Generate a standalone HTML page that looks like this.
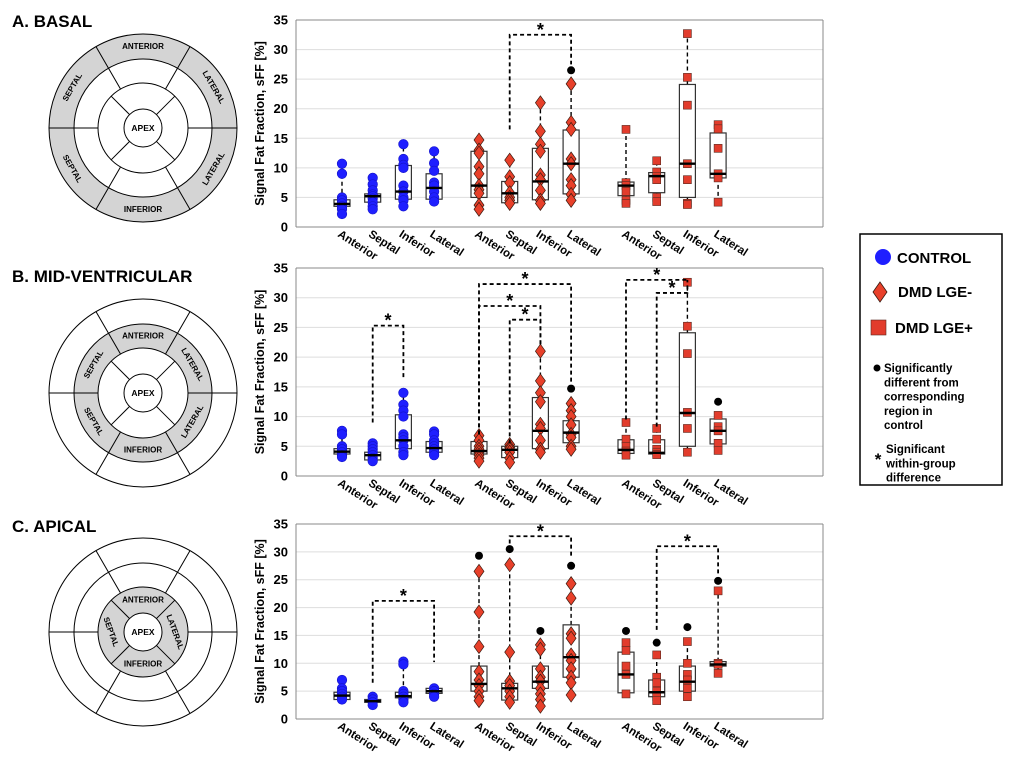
<!DOCTYPE html>
<html><head><meta charset="utf-8"><style>
html,body{margin:0;padding:0;background:#fff;}
svg{display:block;font-family:"Liberation Sans",Arial,sans-serif;}
</style></head><body>
<svg id="fig" width="1024" height="768" viewBox="0 0 1024 768" xmlns="http://www.w3.org/2000/svg"></svg>
<script>
// ---------- DATA ----------
const categories = ["Anterior","Septal","Inferior","Lateral","Anterior","Septal","Inferior","Lateral","Anterior","Septal","Inferior","Lateral"];
const groups = ["control","dmd-lge-neg","dmd-lge-pos"];
const yTicks = [0,5,10,15,20,25,30,35];

const pointsA = [[10.7,9,5,4.5,4,3.5,3,2.2],[8.3,7.2,6.2,5.5,5.2,4.8,4.2,3.5,3],[14,11.5,10.5,10,7,6,5,4.5,3.5],[12.8,10.8,9.5,7.5,7,6,5,4.3],
  [14.7,13,12.5,10.2,9,7,6.3,5.7,3.7,3],[11.3,8.5,7.5,5.8,5,4.5,4],[21,16.2,14,12.8,8.8,8,6.2,4.5,4],[24.2,17.7,16.5,11.5,10.7,8,7,5.5,4.5],
  [16.5,7.5,7,6,4.5,4],[11.2,9.3,8.5,8,5,4.3],[32.7,25.3,20.6,10.7,8,4,3.8],[17.3,16.6,13.3,9,8.3,4.2]];
const q1A = [3.5,4.2,4.7,4.7,5,4.1,4.6,5.6,5.3,5.8,5,8.3];
const medA = [3.9,5.2,6,6.6,7,5.7,7.7,10.7,7,8.6,10.7,9];
const q3A = [4.6,5.6,10.4,9,12.8,7.7,13.3,16.4,7.6,9.2,24.1,15.9];
const dotA = [null,null,null,null,null,null,null,26.5,null,null,null,null];
const sigA = [[5,7,32.5,16.5,27.5]];

const pointsB = [[7.6,7,5,4.5,4,3.5,3.2],[5.5,5,4.5,4,3.5,3,2.5],[14,12,11,10,7,6.5,6,5,4,3.5],[7.5,7,6,5.5,5,4.5,4,3.5],
  [6.8,6,5,4.5,4,3.5,3,2.5],[5.3,4.8,4.5,4,3,2.3],[21,16,14,12.5,8.7,8,6,4.5,4],[12.2,11,10,8.6,7,6.5,5,4.5],
  [9,6.2,5,4.2,3.5],[8,6.2,4.5,4,3.6],[32.6,25.2,20.6,10.7,8,4],[10.2,8.3,7.6,5.5,4.3]];
const q1B = [3.7,2.7,4.6,4,3.7,3.1,4.6,5.6,3.8,3.7,5,5.4];
const medB = [4.1,3.5,6,4.7,4.2,4.4,7.6,7.3,4.4,3.9,10.6,7.6];
const q3B = [4.6,4,10.3,5.8,5.8,5,13.2,9.3,6.1,6.1,24.1,9.6];
const dotB = [null,null,null,null,null,null,null,14.7,null,null,null,12.5];
const sigB = [[1,2,25.3,9,16.5],[4,7,32.3,7,15.5],[4,6,28.6,7,22],[5,6,26.3,5.5,22],[8,10,33,9.5,33],[9,10,30.8,8.3,33]];

const pointsC = [[7,5.5,5,4.5,4,3.5],[4,3.5,3,2.5],[10.3,9.8,5,4.5,4,3.5,3],[5.5,5,4.5,4],
  [26.5,19.2,13,8.5,7,6,5,4,3.3],[27.7,12,6.8,6,5,4,3],[13.3,12.5,9,7.5,6.8,5.5,4.5,3.5,2.3],[24.3,21.7,15.3,14.5,11.5,10.5,9,7.5,6.5,4.3],
  [13.7,12.3,9.5,8,4.5],[11.5,7.5,6.5,5,4,3.3],[13.9,10,8,7,5.5,4],[23,10,9.8,8.2]];
const q1C = [3.5,3,3.8,4.6,5,3.4,5.5,7.5,4.7,4,5,9.5];
const medC = [4.2,3.2,4.1,5,6.3,5.5,6.7,11.1,8,4.8,6.7,9.8];
const q3C = [4.8,3.5,4.8,5.5,9.5,6.4,9.5,16.9,12,7,9.5,10.3];
const dotC = [null,null,null,null,29.3,30.5,15.8,27.5,15.8,13.7,16.5,24.8];
const sigC = [[1,3,21.2,6.5,10.2],[5,7,32.8,31.5,29],[9,11,31,16,26]];

// ---------- LAYOUT ----------
const NS="http://www.w3.org/2000/svg";
const svg=document.getElementById('fig');
function mk(tag,attrs,parent,text){const e=document.createElementNS(NS,tag);for(const k in attrs)e.setAttribute(k,attrs[k]);if(text!==undefined)e.textContent=text;(parent||svg).appendChild(e);return e;}
const groupStart=[342,479,626], catStep=30.7;
function xPos(i){return groupStart[Math.floor(i/4)]+(i%4)*catStep;}
const plotL=296, plotR=823;

function drawPanel(key,top,bot,points,q1,med,q3,dots,sigs){
  const g=mk('g',{});
  
  
  const y=v=>bot-(v/35)*(bot-top);
  yTicks.forEach(t=>{
    const gl=mk('line',{x1:plotL,x2:plotR,y1:y(t),y2:y(t),stroke:t===0||t===35?'#888':'#ddd','stroke-width':1},g);
    
    
    const tl=mk('text',{x:plotL-8,y:y(t)+4.5,'text-anchor':'end','font-size':13,'font-weight':'bold'},g,String(t));
    
    
  });
  const ax=mk('line',{x1:plotL,x2:plotL,y1:top,y2:bot,stroke:'#888','stroke-width':1},g);
  
  
  const rx=mk('line',{x1:plotR,x2:plotR,y1:top,y2:bot,stroke:'#888','stroke-width':1},g);
  
  
  const yt=mk('text',{x:0,y:0,transform:`translate(${plotL-32},${(top+bot)/2}) rotate(-90)`,'text-anchor':'middle','font-size':12.5,'font-weight':'bold'},g,'Signal Fat Fraction, sFF [%]');
  
  
  categories.forEach((c,i)=>{
    const x=xPos(i);
    const lab=mk('text',{x:0,y:0,transform:`translate(${x-5},${bot+9}) rotate(33)`,'font-size':11.5,'font-weight':'bold'},g,c);
    
    
    const pts=points[i], mn=Math.min(...pts), mx=Math.max(...pts);
    const w1=mk('line',{x1:x,x2:x,y1:y(q3[i]),y2:y(mx),stroke:'#000','stroke-width':1.4,'stroke-dasharray':'4,3'},g);
    
    
    const w2=mk('line',{x1:x,x2:x,y1:y(q1[i]),y2:y(mn),stroke:'#000','stroke-width':1.4,'stroke-dasharray':'4,3'},g);
    
    
    const bx=mk('rect',{x:x-8,y:y(q3[i]),width:16,height:y(q1[i])-y(q3[i]),fill:'#fff',stroke:'#333','stroke-width':1.2},g);
    
    
    const grp=Math.floor(i/4);
    pts.forEach(v=>{
      let m;
      if(grp===0){m=mk('circle',{cx:x,cy:y(v),r:4.8,fill:'#1f1fff',stroke:'#1414c8','stroke-width':0.6},g);}
      else if(grp===1){const cy=y(v);m=mk('polygon',{points:`${x},${cy-7} ${x+5},${cy} ${x},${cy+7} ${x-5},${cy}`,fill:'#e8402a',stroke:'#3a1a10','stroke-width':0.7},g);}
      else{m=mk('rect',{x:x-4,y:y(v)-4,width:8,height:8,fill:'#e23c2c',stroke:'#5a2a20','stroke-width':0.6},g);}
      
      
    });
    const md=mk('line',{x1:x-8,x2:x+8,y1:y(med[i]),y2:y(med[i]),stroke:'#000','stroke-width':2.4},g);
    
    
    if(dots[i]!==null){
      const d=mk('circle',{cx:x,cy:y(dots[i]),r:4,fill:'#000'},g);
      
      
    }
  });
  sigs.forEach(s=>{
    const xa=xPos(s[0]), xb=xPos(s[1]);
    const p=mk('polyline',{points:`${xa},${y(s[3])} ${xa},${y(s[2])} ${xb},${y(s[2])} ${xb},${y(s[4])}`,fill:'none',stroke:'#000','stroke-width':1.8,'stroke-dasharray':'4,3'},g);
    
    
    const st=mk('text',{x:(xa+xb)/2,y:y(s[2])+1,'text-anchor':'middle','font-size':18,'font-weight':'bold'},g,'*');
    
    
  });
}
drawPanel('basal',20,227,pointsA,q1A,medA,q3A,dotA,sigA);
drawPanel('mid-ventricular',268,476,pointsB,q1B,medB,q3B,dotB,sigB);
drawPanel('apical',524,719,pointsC,q1C,medC,q3C,dotC,sigC);

// ---------- BULLSEYES ----------
const R=[94,69,45,19];
function pt(cx,cy,r,deg){const a=deg*Math.PI/180;return [cx+r*Math.cos(a),cy-r*Math.sin(a)];}
function ringSeg(cx,cy,r1,r2){return `M${cx-r1},${cy} A${r1},${r1} 0 1,0 ${cx+r1},${cy} A${r1},${r1} 0 1,0 ${cx-r1},${cy} Z M${cx-r2},${cy} A${r2},${r2} 0 1,1 ${cx+r2},${cy} A${r2},${r2} 0 1,1 ${cx-r2},${cy} Z`;}
function bullseye(key,cx,cy,grayRing,title,ty){
  const g=mk('g',{});
  
  
  const t=mk('text',{x:12,y:ty,'font-size':17,'font-weight':'bold'},svg,title);
  
  
  const gr=mk('path',{d:ringSeg(cx,cy,R[grayRing],R[grayRing+1]),fill:'#d4d4d4','fill-rule':'evenodd'},g);
  
  
  R.forEach(r=>{const c=mk('circle',{cx:cx,cy:cy,r:r,fill:'none',stroke:'#000','stroke-width':1},g);
    
    });
  [0,60,120,180,240,300].forEach(a=>{const p1=pt(cx,cy,R[0],a),p2=pt(cx,cy,R[2],a);
    const l=mk('line',{x1:p1[0],y1:p1[1],x2:p2[0],y2:p2[1],stroke:'#000','stroke-width':1},g);
    
    });
  [45,135,225,315].forEach(a=>{const p1=pt(cx,cy,R[2],a),p2=pt(cx,cy,R[3],a);
    const l=mk('line',{x1:p1[0],y1:p1[1],x2:p2[0],y2:p2[1],stroke:'#000','stroke-width':1},g);
    
    });
  const ap=mk('text',{x:cx,y:cy+3,'text-anchor':'middle','font-size':8.5,'font-weight':'bold'},g,'APEX');
  
  
  const rm=(R[grayRing]+R[grayRing+1])/2;
  let segs;
  if(grayRing<2) segs=[[90,'ANTERIOR'],[30,'LATERAL'],[-30,'LATERAL'],[-90,'INFERIOR'],[210,'SEPTAL'],[150,'SEPTAL']];
  else segs=[[90,'ANTERIOR'],[0,'LATERAL'],[-90,'INFERIOR'],[180,'SEPTAL']];
  segs.forEach(s=>{const p=pt(cx,cy,rm,s[0]);
    let rot=(s[0]>=0&&s[0]<=180&&s[0]!==180)?90-s[0]:270-s[0]; if(s[0]<0)rot=270-(360+s[0]);
    if(grayRing===2&&s[0]===0)rot=70; if(grayRing===2&&s[0]===180)rot=70;
    const l=mk('text',{x:0,y:0,transform:`translate(${p[0]},${p[1]}) rotate(${rot})`,'text-anchor':'middle','dominant-baseline':'central','font-size':8,'font-weight':'bold'},g,s[1]);
    
    });
}
bullseye('basal',143,128,0,'A.  BASAL',27);
bullseye('mid',143,393,1,'B. MID-VENTRICULAR',282);
bullseye('apical',143,632,2,'C. APICAL',532);

// ---------- LEGEND ----------
const lg=mk('g',{});


const lb=mk('rect',{x:860,y:234,width:142,height:251,fill:'#fff',stroke:'#000','stroke-width':1.5},lg);


const c1=mk('circle',{cx:883,cy:257,r:8,fill:'#1f1fff'},lg);


const t1=mk('text',{x:897,y:263,'font-size':15,'font-weight':'bold'},lg,'CONTROL');


const d1=mk('polygon',{points:'880,282 887,292 880,302 873,292',fill:'#e8402a',stroke:'#3a1a10','stroke-width':0.8},lg);


const t2=mk('text',{x:898,y:297,'font-size':15,'font-weight':'bold'},lg,'DMD LGE-');


const s1=mk('rect',{x:871,y:320,width:15,height:15,fill:'#e23c2c',stroke:'#5a2a20','stroke-width':0.6},lg);


const t3=mk('text',{x:895,y:333,'font-size':15,'font-weight':'bold'},lg,'DMD LGE+');


const dt=mk('circle',{cx:877,cy:368,r:3.5,fill:'#000'},lg);


["Significantly","different from","corresponding","region in","control"].forEach((s,i)=>{
  const t=mk('text',{x:884,y:372+i*14.3,'font-size':11.5,'font-weight':'bold'},lg,s);
  
  });
const st=mk('text',{x:878,y:465,'text-anchor':'middle','font-size':17,'font-weight':'bold'},lg,'*');


["Significant","within-group","difference"].forEach((s,i)=>{
  const t=mk('text',{x:886,y:453+i*14.3,'font-size':11.5,'font-weight':'bold'},lg,s);
  
  });
</script>
</body></html>
